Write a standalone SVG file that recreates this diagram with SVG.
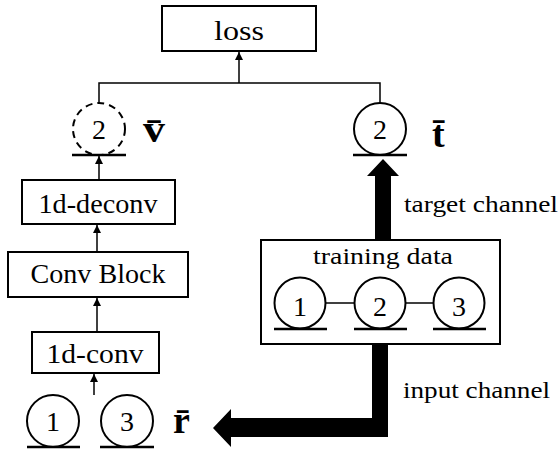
<svg xmlns="http://www.w3.org/2000/svg" width="560" height="450" viewBox="0 0 560 450">
<style>
.box{fill:#fff;stroke:#000;stroke-width:2}
.circ{fill:#fff;stroke:#000;stroke-width:2}
.dash{fill:#fff;stroke:#000;stroke-width:2;stroke-dasharray:7 5}
.ul{stroke:#000;stroke-width:2.5}
.ln{stroke:#000;stroke-width:1.5;fill:none}
.t{font-family:"Liberation Serif","DejaVu Serif",serif;font-size:27px;fill:#000;text-anchor:middle}
.d{font-family:"Liberation Serif","DejaVu Serif",serif;font-size:28px;fill:#000;text-anchor:middle}
.s{font-family:"Liberation Serif","DejaVu Serif",serif;font-size:23px;fill:#000}
.b{font-family:"Liberation Serif","DejaVu Serif",serif;font-size:38px;font-weight:bold;fill:#000}
.big{fill:#000;stroke:none}
</style>
<defs>
<marker id="ah" viewBox="0 0 8 8" refX="8" refY="4" markerWidth="8" markerHeight="8" markerUnits="userSpaceOnUse" orient="auto">
<path d="M0,0 L8,4 L0,8 z" fill="#000"/>
</marker>
</defs>
<g id="loss">
<rect class="box" x="162" y="6" width="154" height="45"/>
<text class="t" x="239" y="40" textLength="50" lengthAdjust="spacingAndGlyphs">loss</text>
</g>
<g id="v">
<circle class="dash" cx="99" cy="129" r="26"/>
<line class="ul" x1="72" y1="155" x2="126" y2="155"/>
<text class="d" x="99" y="139">2</text>
<text class="b" x="143" y="142" textLength="22" lengthAdjust="spacingAndGlyphs">v̄</text>
</g>
<g id="t">
<circle class="circ" cx="380" cy="129" r="26"/>
<line class="ul" x1="353" y1="155" x2="407" y2="155"/>
<text class="d" x="380" y="139">2</text>
<text class="b" x="432" y="147">t̄</text>
</g>
<g id="deconv">
<rect class="box" x="22" y="180" width="153" height="44"/>
<text class="t" x="98" y="213" textLength="119" lengthAdjust="spacingAndGlyphs">1d-deconv</text>
</g>
<g id="convblock">
<rect class="box" x="8" y="252" width="180" height="45"/>
<text class="t" x="98" y="283" textLength="135" lengthAdjust="spacingAndGlyphs">Conv Block</text>
</g>
<g id="conv">
<rect class="box" x="32" y="332" width="127" height="41"/>
<text class="t" x="95" y="363" textLength="97" lengthAdjust="spacingAndGlyphs">1d-conv</text>
</g>
<g id="r">
<circle class="circ" cx="53" cy="421" r="26"/>
<line class="ul" x1="27" y1="447" x2="80" y2="447"/>
<text class="d" x="53" y="431">1</text>
<circle class="circ" cx="127" cy="421" r="26"/>
<line class="ul" x1="100" y1="447" x2="154" y2="447"/>
<text class="d" x="127" y="431">3</text>
<text class="b" x="173" y="433">r̄</text>
</g>
<g id="training">
<rect class="box" x="261" y="240" width="239" height="104"/>
<text class="s" x="313" y="264" textLength="140" lengthAdjust="spacingAndGlyphs">training data</text>
<circle class="circ" cx="300" cy="303" r="25.5"/>
<line class="ul" x1="274" y1="329" x2="327" y2="329"/>
<text class="d" x="300" y="316">1</text>
<circle class="circ" cx="380" cy="303" r="25.5"/>
<line class="ul" x1="354" y1="329" x2="407" y2="329"/>
<text class="d" x="380" y="316">2</text>
<circle class="circ" cx="459" cy="303" r="25.5"/>
<line class="ul" x1="433" y1="329" x2="486" y2="329"/>
<text class="d" x="459" y="316">3</text>
</g>
<g id="labels">
<text class="s" x="404" y="212" textLength="154" lengthAdjust="spacingAndGlyphs">target channel</text>
<text class="s" x="403" y="398" textLength="147" lengthAdjust="spacingAndGlyphs">input channel</text>
</g>
<g id="connectors">
<polyline class="ln" points="99,103 99,83 380,83 380,103"/>
<line class="ln" x1="239" y1="83" x2="239" y2="52" marker-end="url(#ah)"/>
<line class="ln" x1="99" y1="180" x2="99" y2="156" marker-end="url(#ah)"/>
<line class="ln" x1="97" y1="252" x2="97" y2="225" marker-end="url(#ah)"/>
<line class="ln" x1="97" y1="332" x2="97" y2="298" marker-end="url(#ah)"/>
<line class="ln" x1="94" y1="395" x2="94" y2="374" marker-end="url(#ah)"/>
<line class="ln" x1="325.5" y1="303" x2="354.5" y2="303"/>
<line class="ln" x1="405.5" y1="303" x2="433.5" y2="303"/>
<polygon class="big" points="375,240 391,240 391,176 399,176 383,159 367,176 375,176"/>
<polygon class="big" points="372,344 388,344 388,437 231,437 231,447 213,428 231,409 231,418 372,418"/>
</g>
</svg>
